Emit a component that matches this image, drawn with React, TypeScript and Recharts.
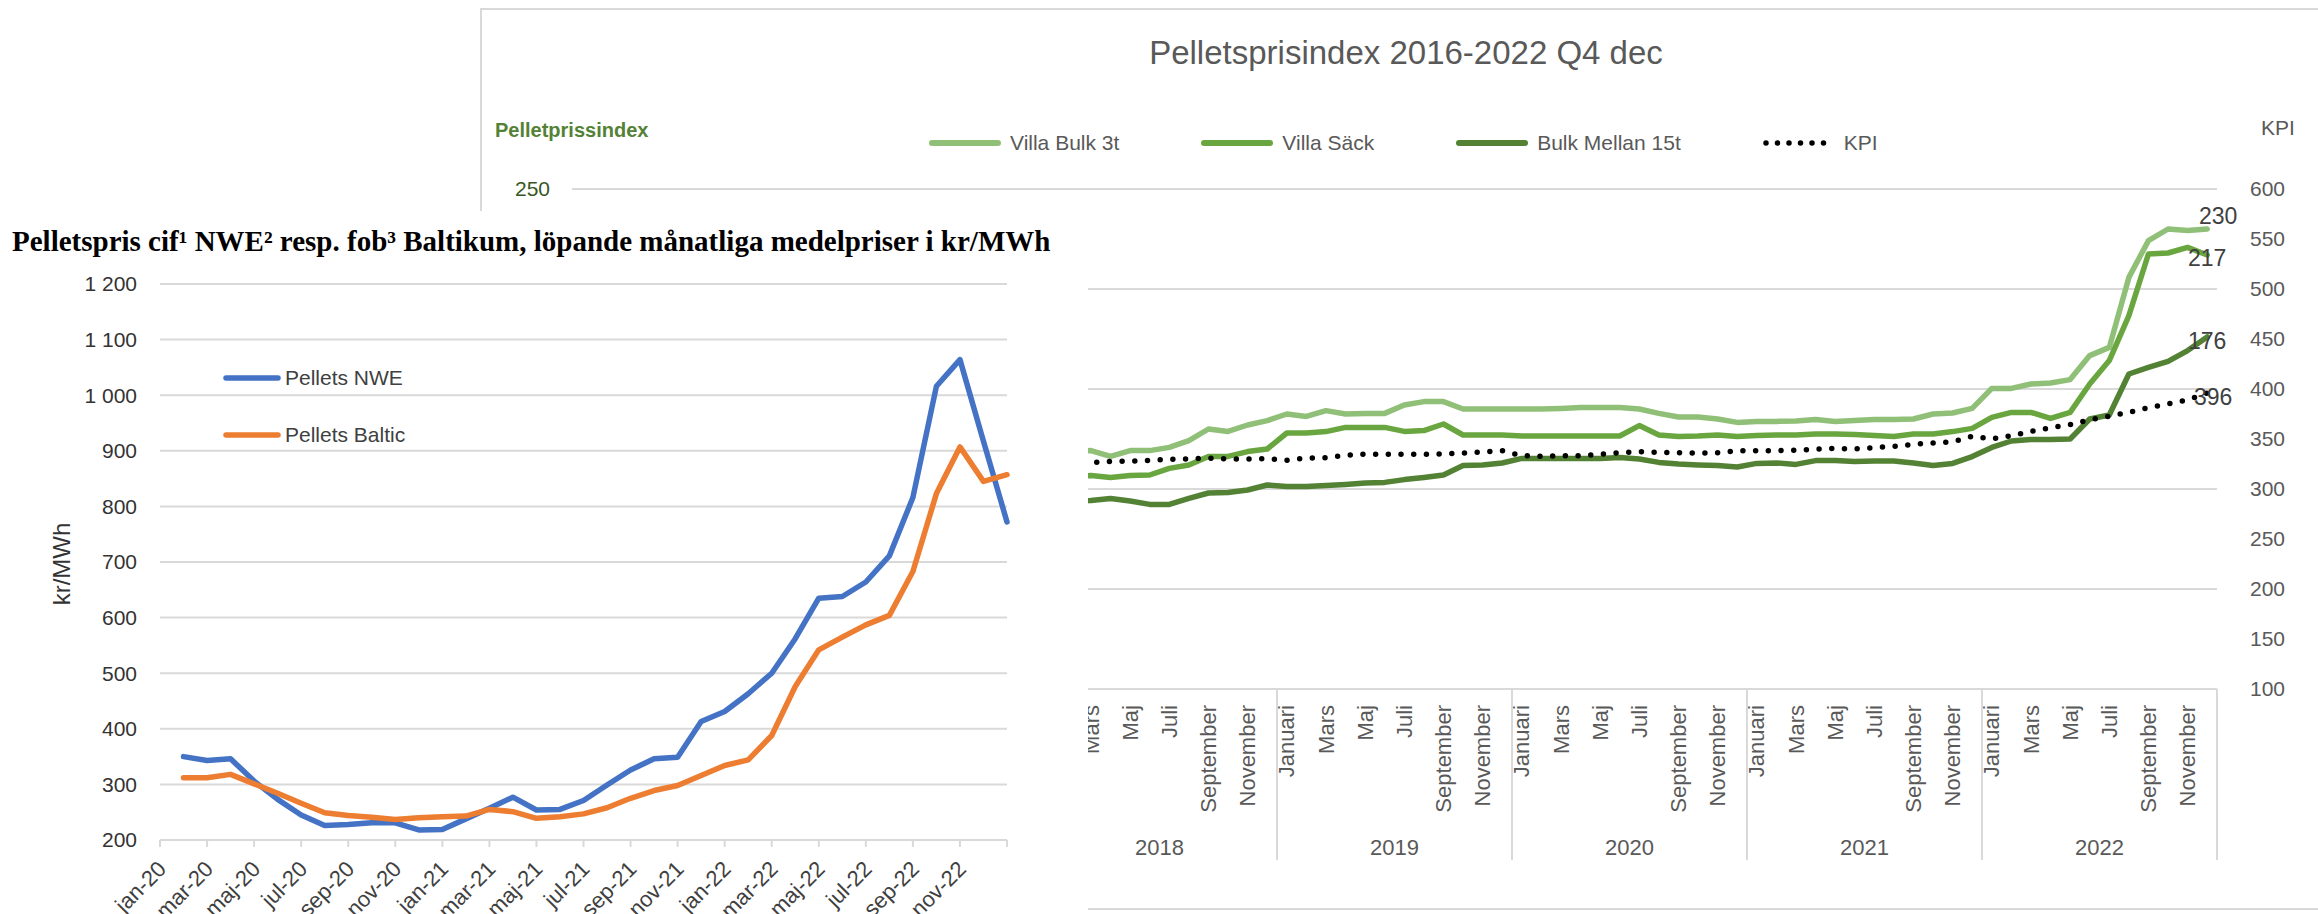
import React from 'react';
import { LineChart, Line, XAxis, YAxis, CartesianGrid, Legend, LabelList } from 'recharts';

const SANS = '"Liberation Sans", Arial, Helvetica, sans-serif';
const SERIF = '"Liberation Serif", "Times New Roman", Times, serif';

// ---------------- Left chart: Pelletspris cif NWE / fob Baltikum ----------------
const leftMonths = [
  'jan-20', 'feb-20', 'mar-20', 'apr-20', 'maj-20', 'jun-20', 'jul-20', 'aug-20', 'sep-20', 'okt-20', 'nov-20', 'dec-20',
  'jan-21', 'feb-21', 'mar-21', 'apr-21', 'maj-21', 'jun-21', 'jul-21', 'aug-21', 'sep-21', 'okt-21', 'nov-21', 'dec-21',
  'jan-22', 'feb-22', 'mar-22', 'apr-22', 'maj-22', 'jun-22', 'jul-22', 'aug-22', 'sep-22', 'okt-22', 'nov-22', 'dec-22',
];
const pelletsNWE = [
  350, 343, 346, 306, 273, 245, 226, 228, 231, 231, 218, 219,
  238, 257, 277, 254, 255, 271, 299, 326, 346, 349, 413, 431,
  463, 500, 562, 635, 638, 664, 711, 816, 1016, 1064, 917, 772,
];
const pelletsBaltic = [
  312, 312, 318, 301, 284, 266, 249, 244, 241, 237, 240, 242,
  243, 255, 251, 239, 242, 247, 258, 275, 289, 298, 316, 334,
  344, 388, 476, 542, 565, 587, 604, 683, 823, 907, 845, 857,
];
const leftYTicks = [200, 300, 400, 500, 600, 700, 800, 900, 1000, 1100, 1200];
const leftXTicks = [0, 2, 4, 6, 8, 10, 12, 14, 16, 18, 20, 22, 24, 26, 28, 30, 32, 34, 36];
const leftSeries = [
  { key: 'nwe', name: 'Pellets NWE', color: '#4472C4' },
  { key: 'baltic', name: 'Pellets Baltic', color: '#ED7D31' },
];

// ---------------- Right chart: Pelletsprisindex 2016-2022 ----------------
const monthNames = ['Januari', 'Februari', 'Mars', 'April', 'Maj', 'Juni', 'Juli', 'Augusti', 'September', 'Oktober', 'November', 'December'];
const years = ['2016', '2017', '2018', '2019', '2020', '2021', '2022'];
const firstReadMonth = { year: '2018', month: 'Februari' };
const villaBulk3t = [
  118.5, 119.2, 116.3, 119.2, 119.2, 120.8, 124.2, 130.0, 128.8, 132.0, 134.2,
  137.5, 136.3, 139.2, 137.5, 137.8, 137.8, 142.0, 143.7, 143.7, 140.0, 140.0, 140.0,
  140.0, 140.0, 140.3, 140.7, 140.7, 140.7, 140.0, 137.8, 136.0, 136.0, 135.0, 133.3,
  133.7, 133.8, 134.0, 134.7, 133.8, 134.3, 134.7, 134.7, 135.0, 137.5, 138.0, 140.3,
  150.3, 150.3, 152.5, 153.0, 154.7, 166.7, 170.8, 205.8, 224.2, 230.0, 229.2, 230,
];
const villaSack = [
  106.0, 106.7, 105.7, 106.7, 107.0, 110.3, 112.0, 116.3, 116.3, 118.7, 120.0,
  128.0, 128.0, 128.7, 130.8, 130.8, 130.8, 128.8, 129.2, 132.5, 127.0, 127.0, 127.0,
  126.5, 126.5, 126.5, 126.5, 126.5, 126.5, 131.7, 127.0, 126.3, 126.5, 127.0, 126.3,
  126.8, 127.0, 127.0, 127.5, 127.5, 127.3, 126.8, 126.3, 127.5, 127.5, 128.7, 130.3,
  135.8, 138.3, 138.3, 135.3, 138.3, 152.5, 164.2, 186.7, 217.5, 218.0, 220.8, 217,
];
const bulkMellan15t = [
  94.0, 94.2, 95.3, 94.0, 92.3, 92.3, 95.3, 98.0, 98.3, 99.5, 102.0,
  101.3, 101.3, 101.7, 102.3, 103.0, 103.3, 104.7, 105.8, 107.0, 111.7, 112.0, 113.0,
  115.3, 115.3, 115.3, 115.3, 115.3, 115.8, 115.0, 113.3, 112.5, 112.0, 111.7, 111.0,
  112.8, 113.0, 112.3, 114.2, 114.2, 113.8, 114.0, 114.0, 113.0, 111.7, 112.8, 116.2,
  120.8, 124.0, 124.7, 124.7, 125.0, 135.0, 137.0, 157.5, 160.8, 163.8, 169.2, 176,
];
const kpi = [
  326.0, 326.3, 327.7, 327.7, 328.7, 329.7, 330.0, 331.0, 330.0, 330.0, 330.3,
  328.7, 331.0, 331.3, 333.7, 335.0, 334.7, 334.7, 334.7, 335.0, 336.0, 337.0, 338.3,
  333.3, 332.7, 333.3, 333.3, 334.7, 336.3, 337.3, 336.7, 336.3, 336.0, 336.3, 338.3,
  338.3, 338.3, 338.7, 339.7, 340.7, 340.0, 341.3, 342.7, 344.7, 346.0, 347.3, 352.7,
  350.0, 353.3, 357.7, 361.3, 364.3, 369.3, 372.7, 376.7, 381.3, 385.0, 389.0, 396.0,
];
const leftIndexTicks = [0, 50, 100, 150, 200, 250];
const kpiTicks = [100, 150, 200, 250, 300, 350, 400, 450, 500, 550, 600];
const rightSeries = [
  { key: 'villaBulk', name: 'Villa Bulk 3t', color: '#90C078', dotted: false },
  { key: 'villaSack', name: 'Villa Säck', color: '#6AA640', dotted: false },
  { key: 'bulkMellan', name: 'Bulk Mellan 15t', color: '#548235', dotted: false },
  { key: 'kpi', name: 'KPI', color: '#000000', dotted: true },
];

// ---------------- tables built from the arrays ----------------
const leftData = leftMonths.map((m, i) => ({ month: m, t: i + 1, nwe: pelletsNWE[i], baltic: pelletsBaltic[i] }));

const firstIdx = years.indexOf(firstReadMonth.year) * 12 + monthNames.indexOf(firstReadMonth.month);
const rightData: any[] = [];
years.forEach((yr, yi) => {
  monthNames.forEach((mn, mi) => {
    const k = yi * 12 + mi;
    const j = k - firstIdx;
    const ok = j >= 0;
    rightData.push({
      k, year: yr, month: mn,
      villaBulk: ok ? villaBulk3t[j] : null,
      villaSack: ok ? villaSack[j] : null,
      bulkMellan: ok ? bulkMellan15t[j] : null,
      kpi: ok ? kpi[j] : null,
    });
  });
});
const rightXTicks = rightData.map((d) => d.k);
const lastK = rightData.length - 1;

// ---------------- layout ----------------
const R_PLOT_LEFT = 572;
const R_PLOT_RIGHT = 2217;
const R_PLOT_TOP = 189;
const R_PLOT_BOTTOM = 689;
const CAT_W = (R_PLOT_RIGHT - R_PLOT_LEFT) / rightData.length;

const L_BOX_TOP = 211;
const L_BOX_W = 1088;
const L_BOX_H = 914 - L_BOX_TOP;

const fmtThousands = (v: number) => (v >= 1000 ? `${Math.floor(v / 1000)} ${String(v % 1000).padStart(3, '0')}` : String(v));

const LeftMonthTick = (props: any) => {
  const { x, y, payload } = props;
  const label = leftMonths[payload.value];
  if (!label) return null;
  const ax = x + 2;
  const ay = y + 18;
  return (
    <text x={ax} y={ay} transform={`rotate(-45 ${ax} ${ay})`} textAnchor="end" dy="0.35em" fill="#404040" fontSize={22} fontFamily={SANS}>
      {label}
    </text>
  );
};

const RightMonthTick = (props: any) => {
  const { x, y, payload } = props;
  const k = payload.value as number;
  const m = k % 12;
  const yi = Math.floor(k / 12);
  const els: any[] = [];
  if (m % 2 === 0) {
    const ay = y + 16;
    els.push(
      <text key="m" x={x} y={ay} transform={`rotate(-90 ${x} ${ay})`} textAnchor="end" dy="0.35em" fill="#595959" fontSize={22} fontFamily={SANS}>
        {monthNames[m]}
      </text>
    );
  }
  if (m === 0) {
    els.push(<line key="s" x1={x - CAT_W / 2} x2={x - CAT_W / 2} y1={y} y2={y + 171} stroke="#d9d9d9" strokeWidth={2} />);
  }
  if (k === lastK) {
    els.push(<line key="e" x1={x + CAT_W / 2} x2={x + CAT_W / 2} y1={y} y2={y + 171} stroke="#d9d9d9" strokeWidth={2} />);
  }
  if (m === 5) {
    els.push(
      <text key="y" x={x + CAT_W / 2} y={y + 158} textAnchor="middle" dominantBaseline="central" fill="#595959" fontSize={22} fontFamily={SANS}>
        {years[yi]}
      </text>
    );
  }
  return <g>{els}</g>;
};

const endLabel = (dx: number, dy: number) => (props: any) => {
  const { x, y, value, index } = props;
  if (index !== lastK || value == null) return null;
  return (
    <text x={x + dx} y={y + dy} textAnchor="middle" dominantBaseline="central" fill="#404040" fontSize={23} fontFamily={SANS}>
      {Math.round(value)}
    </text>
  );
};

const RightLegend = () => (
  <div style={{ display: 'flex', alignItems: 'center', fontFamily: SANS, fontSize: 21, color: '#595959', whiteSpace: 'nowrap', lineHeight: '24px' }}>
    {rightSeries.map((s, i) => (
      <div key={s.key} style={{ display: 'flex', alignItems: 'center', marginLeft: i ? 82 : 0 }}>
        <svg width={72} height={10} style={{ display: 'block' }}>
          <line x1={3} x2={69} y1={5} y2={5} stroke={s.color} strokeWidth={s.dotted ? 5.5 : 6} strokeLinecap="round" strokeDasharray={s.dotted ? '0 11.5' : undefined} />
        </svg>
        <span style={{ marginLeft: 9 }}>{s.name}</span>
      </div>
    ))}
  </div>
);

const LeftLegend = () => (
  <div style={{ fontFamily: SANS, fontSize: 21, color: '#404040', whiteSpace: 'nowrap' }}>
    {leftSeries.map((s) => (
      <div key={s.key} style={{ display: 'flex', alignItems: 'center', height: 57 }}>
        <svg width={58} height={10} style={{ display: 'block' }}>
          <line x1={3} x2={55} y1={5} y2={5} stroke={s.color} strokeWidth={5.5} strokeLinecap="round" />
        </svg>
        <span style={{ marginLeft: 4 }}>{s.name}</span>
      </div>
    ))}
  </div>
);

export default function App() {
  return (
    <div style={{ position: 'absolute', left: 0, top: 0, width: 2318, height: 914, background: '#ffffff', overflow: 'hidden' }}>
      {/* right chart frame */}
      <div style={{ position: 'absolute', left: 480, top: 8, width: 1900, height: 902, border: '2px solid #d9d9d9', boxSizing: 'border-box' }} />

      {/* right chart */}
      <div style={{ position: 'absolute', left: 0, top: 0 }}>
        <LineChart
          width={2318}
          height={914}
          data={rightData}
          margin={{ top: R_PLOT_TOP, right: 2318 - R_PLOT_RIGHT - 80, bottom: 0, left: R_PLOT_LEFT - 60 }}
        >
          <CartesianGrid yAxisId="L" vertical={false} stroke="#d9d9d9" strokeWidth={2} />
          <XAxis
            dataKey="k"
            type="number"
            domain={[-0.5, rightData.length - 0.5]}
            ticks={rightXTicks}
            interval={0}
            height={914 - R_PLOT_BOTTOM}
            tickSize={0}
            tickMargin={0}
            tickLine={false}
            axisLine={{ stroke: '#d9d9d9', strokeWidth: 2 }}
            tick={RightMonthTick}
          />
          <YAxis
            yAxisId="L"
            orientation="left"
            width={60}
            domain={[0, 250]}
            ticks={leftIndexTicks}
            axisLine={false}
            tickLine={false}
            tickSize={0}
            tickMargin={22}
            tick={{ fill: '#385723', fontSize: 21, fontFamily: SANS }}
          />
          <YAxis
            yAxisId="R"
            orientation="right"
            width={80}
            domain={[100, 600]}
            ticks={kpiTicks}
            axisLine={false}
            tickLine={false}
            tickSize={0}
            tickMargin={33}
            tick={{ fill: '#595959', fontSize: 21, fontFamily: SANS }}
          />
          <Line yAxisId="L" type="linear" dataKey="villaBulk" stroke="#90C078" strokeWidth={5.5} strokeLinejoin="round" strokeLinecap="round" dot={false} activeDot={false} isAnimationActive={false}>
            <LabelList dataKey="villaBulk" content={endLabel(11, -13)} />
          </Line>
          <Line yAxisId="L" type="linear" dataKey="villaSack" stroke="#6AA640" strokeWidth={5.5} strokeLinejoin="round" strokeLinecap="round" dot={false} activeDot={false} isAnimationActive={false}>
            <LabelList dataKey="villaSack" content={endLabel(0, 3)} />
          </Line>
          <Line yAxisId="L" type="linear" dataKey="bulkMellan" stroke="#548235" strokeWidth={5.5} strokeLinejoin="round" strokeLinecap="round" dot={false} activeDot={false} isAnimationActive={false}>
            <LabelList dataKey="bulkMellan" content={endLabel(0, 4)} />
          </Line>
          <Line yAxisId="R" type="linear" dataKey="kpi" stroke="#000000" strokeWidth={5.5} strokeDasharray="0 12.7" strokeLinecap="round" dot={false} activeDot={false} isAnimationActive={false}>
            <LabelList dataKey="kpi" content={endLabel(6, 4)} />
          </Line>
          <Legend
            layout="horizontal"
            verticalAlign="middle"
            align="center"
            content={RightLegend}
            wrapperStyle={{ left: 929, top: 131, width: 1100 }}
          />
        </LineChart>
      </div>

      {/* right chart texts */}
      <div style={{ position: 'absolute', left: 1406, top: 34, transform: 'translateX(-50%)', fontFamily: SANS, fontSize: 33, lineHeight: '38px', color: '#595959', whiteSpace: 'nowrap' }}>
        Pelletsprisindex 2016-2022 Q4 dec
      </div>
      <div style={{ position: 'absolute', left: 495, top: 118, fontFamily: SANS, fontSize: 20, fontWeight: 'bold', lineHeight: '24px', color: '#548235', whiteSpace: 'nowrap' }}>
        Pelletprissindex
      </div>
      <div style={{ position: 'absolute', left: 2261, top: 116, fontFamily: SANS, fontSize: 21, lineHeight: '24px', color: '#595959' }}>KPI</div>

      {/* left chart, on top */}
      <div style={{ position: 'absolute', left: 0, top: L_BOX_TOP, width: L_BOX_W, height: L_BOX_H, background: '#ffffff', zIndex: 2 }}>
        <div style={{ position: 'absolute', left: 12, top: 13, fontFamily: SERIF, fontWeight: 'bold', fontSize: 29, lineHeight: '34px', color: '#000', whiteSpace: 'nowrap' }}>
          Pelletspris cif¹ NWE² resp. fob³ Baltikum, löpande månatliga medelpriser i kr/MWh
        </div>
        <div style={{ position: 'absolute', left: 0, top: 0 }}>
          <LineChart width={L_BOX_W} height={L_BOX_H} data={leftData} margin={{ top: 73, right: 81, bottom: 4, left: 60 }}>
            <CartesianGrid vertical={false} stroke="#d9d9d9" strokeWidth={2} />
            <XAxis
              dataKey="t"
              type="number"
              domain={[0, 36]}
              ticks={leftXTicks}
              interval={0}
              height={70}
              tickSize={7}
              tickMargin={0}
              tickLine={{ stroke: '#d9d9d9', strokeWidth: 2 }}
              axisLine={{ stroke: '#d9d9d9', strokeWidth: 2 }}
              tick={LeftMonthTick}
            />
            <YAxis
              domain={[200, 1200]}
              ticks={leftYTicks}
              width={100}
              axisLine={false}
              tickLine={false}
              tickSize={0}
              tickMargin={23}
              tickFormatter={fmtThousands}
              tick={{ fill: '#333333', fontSize: 21, fontFamily: SANS }}
              label={{
                content: () => (
                  <text x={61} y={353} transform="rotate(-90 61 353)" textAnchor="middle" dominantBaseline="central" fill="#333333" fontSize={24} fontFamily={SANS}>
                    kr/MWh
                  </text>
                ),
              }}
            />
            <Line type="linear" dataKey="nwe" stroke="#4472C4" strokeWidth={5.5} strokeLinejoin="round" strokeLinecap="round" dot={false} activeDot={false} isAnimationActive={false} />
            <Line type="linear" dataKey="baltic" stroke="#ED7D31" strokeWidth={5.5} strokeLinejoin="round" strokeLinecap="round" dot={false} activeDot={false} isAnimationActive={false} />
            <Legend layout="horizontal" verticalAlign="middle" align="center" content={LeftLegend} wrapperStyle={{ left: 223, top: 138, width: 300 }} />
          </LineChart>
        </div>
      </div>
    </div>
  );
}
